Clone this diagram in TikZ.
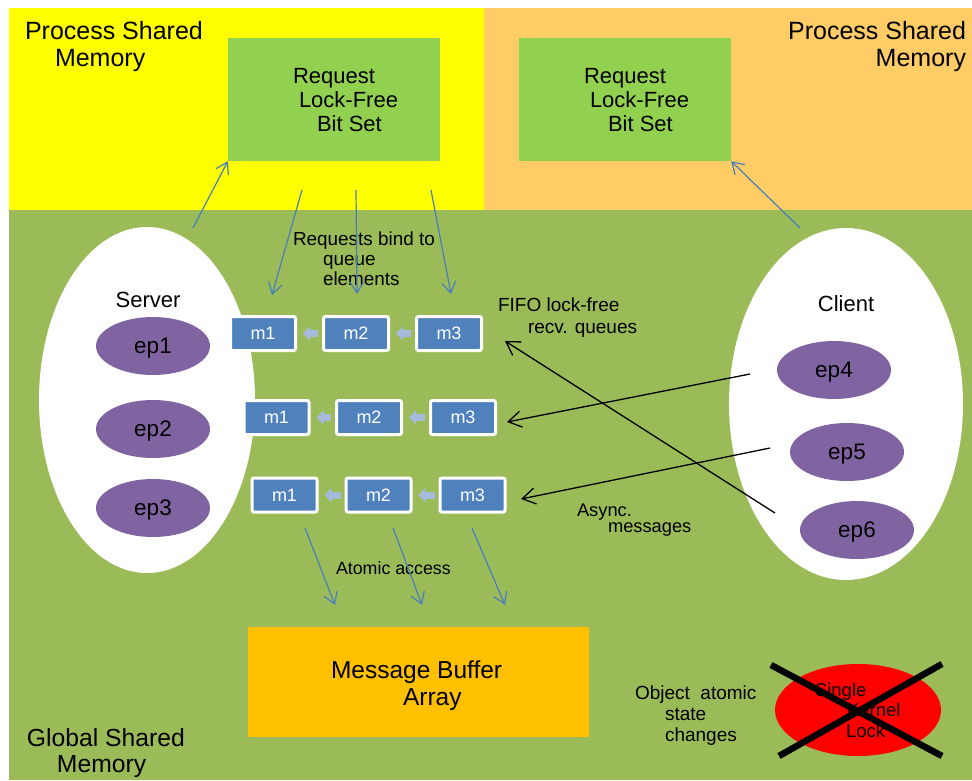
\documentclass[tikz,border=0pt]{standalone}
\usepackage{fontspec}
\setmainfont{Liberation Sans}
\usetikzlibrary{shapes.geometric,arrows.meta}
\definecolor{bgyellow}{HTML}{FFFF00}
\definecolor{bgorange}{HTML}{FFCC66}
\definecolor{bggreen}{HTML}{9BBB59}
\definecolor{boxgreen}{HTML}{92D050}
\definecolor{bufferorange}{HTML}{FFC000}
\definecolor{epurple}{HTML}{8064A2}
\definecolor{mblue}{HTML}{4F81BD}
\definecolor{lineblue}{HTML}{4A7EBB}
\definecolor{qarrowcol}{HTML}{A6BADE}
\definecolor{lockred}{HTML}{FF0000}
\newcommand{\myfs}[2]{\fontsize{#1}{#2}\selectfont}
\tikzset{
  txt/.style={inner sep=0pt, outer sep=0pt, align=left, anchor=north west, text=black},
  bitset/.style={rectangle, fill=boxgreen, minimum width=212pt, minimum height=123pt, inner sep=0pt},
  bufferbox/.style={rectangle, fill=bufferorange, minimum width=341pt, minimum height=110pt, inner sep=0pt},
  mbox/.style={rectangle, rounded corners=2pt, fill=mblue, draw=white, line width=3pt,
    minimum width=65pt, minimum height=34pt, inner sep=0pt, text=white, font=\myfs{18}{20}, text depth=0pt},
  epnode/.style={ellipse, fill=epurple, minimum width=114pt, minimum height=58pt, inner sep=0pt,
    font=\myfs{22.5}{24}, text depth=0pt},
  hostnode/.style={ellipse, fill=white, inner sep=0pt},
  bluearrow/.style={draw=lineblue, line width=1.2pt, -{Straight Barb[length=11pt,width=14pt]}},
  blackarrow/.style={draw=black, line width=1.3pt, -{Straight Barb[length=13pt,width=16pt]}},
  qlink/.style={draw=qarrowcol, line width=7pt, -{Triangle[length=7pt,width=14pt]}, shorten >=6pt, shorten <=4pt},
  crossline/.style={draw=black, line width=6.5pt}
}
\begin{document}
\begin{tikzpicture}[x=1pt,y=-1pt]
\useasboundingbox (0,0) rectangle (972,780);
% regions
\fill[white] (0,0) rectangle (972,780);
\fill[bgyellow] (9,8) rectangle (484,210);
\fill[bgorange] (484,8) rectangle (972,210);
\fill[bggreen] (9,210) rectangle (972,780);

% hosts
\node[hostnode, minimum width=216pt, minimum height=346pt] (server) at (147,400) {};
\node[hostnode, minimum width=234pt, minimum height=352pt] (client) at (846,404) {};
\node[inner sep=0pt, font=\myfs{22}{24}] (serverlbl) at (148,300) {Server};
\node[inner sep=0pt, font=\myfs{22}{24}] (clientlbl) at (846,304) {Client};

\node[epnode] (ep1) at (153,346) {ep1};
\node[epnode] (ep2) at (153,429) {ep2};
\node[epnode] (ep3) at (153,508) {ep3};
\node[epnode] (ep4) at (834,370) {ep4};
\node[epnode] (ep5) at (847,452) {ep5};
\node[epnode] (ep6) at (857,530) {ep6};

% bit sets
\node[bitset] (lbs) at (334,99.5) {};
\node[bitset] (rbs) at (625,99.5) {};
\node[txt, font=\myfs{22}{24}] (lbstxt) at (293,68) {Request\\\hspace*{6pt}Lock-Free\\\hspace*{24pt}Bit Set};
\node[txt, font=\myfs{22}{24}] (rbstxt) at (584,68) {Request\\\hspace*{6pt}Lock-Free\\\hspace*{24pt}Bit Set};

% region labels
\node[txt, font=\myfs{25}{27}] (psml) at (25,21) {Process Shared\\\hspace*{30pt}Memory};
\node[txt, anchor=north east, align=right, font=\myfs{25}{27}] (psmr) at (966,21) {Process Shared\\Memory};
\node[txt, font=\myfs{24.7}{26}] (gsm) at (27,729) {Global Shared\\\hspace*{30pt}Memory};

% queues
\node[mbox] (r1m1) at (263,333.5) {m1};
\node[mbox] (r1m2) at (356,333.5) {m2};
\node[mbox] (r1m3) at (449,333.5) {m3};
\node[mbox] (r2m1) at (276.5,417.5) {m1};
\node[mbox] (r2m2) at (369,417.5) {m2};
\node[mbox] (r2m3) at (463,417.5) {m3};
\node[mbox] (r3m1) at (284.5,495) {m1};
\node[mbox] (r3m2) at (378.5,495) {m2};
\node[mbox] (r3m3) at (472.5,495) {m3};
\draw[qlink] (r1m2.west) -- (r1m1.east);
\draw[qlink] (r1m3.west) -- (r1m2.east);
\draw[qlink] (r2m2.west) -- (r2m1.east);
\draw[qlink] (r2m3.west) -- (r2m2.east);
\draw[qlink] (r3m2.west) -- (r3m1.east);
\draw[qlink] (r3m3.west) -- (r3m2.east);

% message buffer
\node[bufferbox] (buffer) at (418.5,682) {};
\node[txt, font=\myfs{24.5}{26.7}] (buftxt) at (331,661) {Message Buffer\\\hspace*{72pt}Array};

% kernel lock
\node[ellipse, fill=lockred, minimum width=166pt, minimum height=92pt, inner sep=0pt] (klock) at (858,710) {};
\node[txt, font=\myfs{18.5}{20.5}] (klocktxt) at (815,683) {Single\\\hspace*{32pt}Kernel\\\hspace*{31pt}Lock};
\draw[crossline] (771,665) -- (942,756);
\draw[crossline] (779,756) -- (942,664);

% labels
\node[txt, font=\myfs{18.9}{20}] (bindlbl) at (293,232) {Requests bind to\\\hspace*{30pt}queue\\\hspace*{30pt}elements};
\node[txt, font=\myfs{19}{22}] (fifolbl) at (498,298) {FIFO lock-free\\\hspace*{30pt}recv. queues};
\node[txt, font=\myfs{18.3}{16.5}] (asynclbl) at (577,503.5) {Async.\\\hspace*{31pt}messages};
\node[txt, font=\myfs{17.8}{20}] (atomlbl) at (336,561.6) {Atomic access};
\node[txt, font=\myfs{19}{20.7}] (objlbl) at (635,686) {Object\ \ atomic\\\hspace*{30pt}state\\\hspace*{30pt}changes};

% coordinates for free connector ends
\coordinate (srvtop) at (193,228);
\coordinate (clitop) at (800,228);
\coordinate (b1s) at (302,190);
\coordinate (b2s) at (356,190);
\coordinate (b3s) at (431,190);
\coordinate (b1e) at (272,295);
\coordinate (b2e) at (357,294);
\coordinate (b3e) at (451,294);
\coordinate (a1s) at (305,528);
\coordinate (a2s) at (393,528);
\coordinate (a3s) at (472,528);
\coordinate (a1e) at (335,605);
\coordinate (a2e) at (422,605);
\coordinate (a3e) at (505,605);
\coordinate (ep6out) at (775,513);
\coordinate (ep4out) at (750,374);
\coordinate (ep5out) at (770,448);
\coordinate (q1in) at (505,341);
\coordinate (q2in) at (507,422);
\coordinate (q3in) at (521,499);

% blue arrows
\draw[bluearrow] (srvtop) -- (lbs.south west);
\draw[bluearrow] (clitop) -- (rbs.south east);
\draw[bluearrow] (b1s) -- (b1e);
\draw[bluearrow] (b2s) -- (b2e);
\draw[bluearrow] (b3s) -- (b3e);
\draw[bluearrow] (a1s) -- (a1e);
\draw[bluearrow] (a2s) -- (a2e);
\draw[bluearrow] (a3s) -- (a3e);

% black arrows
\draw[blackarrow] (ep6out) -- (q1in);
\draw[blackarrow] (ep4out) -- (q2in);
\draw[blackarrow] (ep5out) -- (q3in);
\end{tikzpicture}
\end{document}
